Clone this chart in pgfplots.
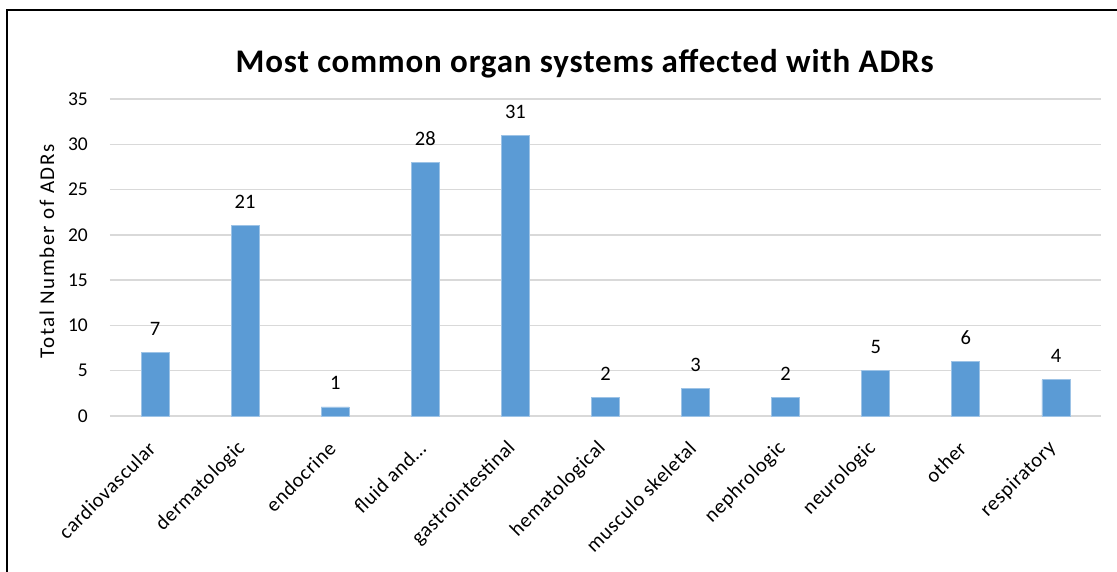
\documentclass[border=0pt]{standalone}
\usepackage{fontspec}
\setmainfont{Carlito}
\newfontfamily\titlefont[LetterSpace=2.5]{Carlito}
\newfontfamily\labelfont[LetterSpace=8]{Carlito}
\newfontfamily\catfont[LetterSpace=3]{Carlito}
\usepackage{pgfplots}
\pgfplotsset{compat=1.18}

\definecolor{barblue}{HTML}{5B9BD5}
\definecolor{baredge}{HTML}{9DC3E6}
\definecolor{gridgray}{HTML}{D9D9D9}

\begin{document}
\begin{tikzpicture}[x=1pt,y=1pt]
\path[use as bounding box] (0,0) rectangle (1117,571);
\draw[line width=1.6pt] (6.7,-5) -- (6.7,561) -- (1122,561);

\begin{axis}[
    at={(110pt,155pt)}, anchor=south west,
    scale only axis,
    width=991pt, height=317pt,
    xmin=-0.5, xmax=10.5,
    ymin=0, ymax=35,
    ytick={0,5,...,35},
    xtick=data,
    xticklabels={cardiovascular,dermatologic,endocrine,fluid and…,gastrointestinal,hematological,musculo skeletal,nephrologic,neurologic,other,respiratory},
    major tick length=0pt,
    axis line style={draw=none},
    ymajorgrids=true,
    grid style={gridgray, line width=1.3pt},
    yticklabel style={font=\fontsize{19.5}{20}\selectfont, anchor=east, inner sep=0pt, xshift=-22pt},
    xticklabel style={font=\catfont\fontsize{20.5}{21}\selectfont, inner sep=0pt, xshift=-3pt, yshift=-29pt, rotate=45, anchor=east},
    /pgf/number format/assume math mode=true,
    title={Most common organ systems affected with ADRs},
    title style={font=\titlefont\bfseries\fontsize{33}{34}\selectfont, at={(0.479,1)}, anchor=base, yshift=21pt, inner sep=0pt},
    ylabel={Total Number of ADRs},
    ylabel style={font=\labelfont\fontsize{21}{22}\selectfont, at={(0,0.519)}, anchor=center, yshift=63pt},
    nodes near coords,
    every node near coord/.append style={font=\fontsize{20.5}{21}\selectfont, anchor=base, inner sep=0pt, yshift=17pt},
]
\addplot[ybar, bar width=28pt, fill=barblue, draw=baredge, line width=0.8pt]
    coordinates {(0,7)(1,21)(2,1)(3,28)(4,31)(5,2)(6,3)(7,2)(8,5)(9,6)(10,4)};
\end{axis}
\end{tikzpicture}
\end{document}
